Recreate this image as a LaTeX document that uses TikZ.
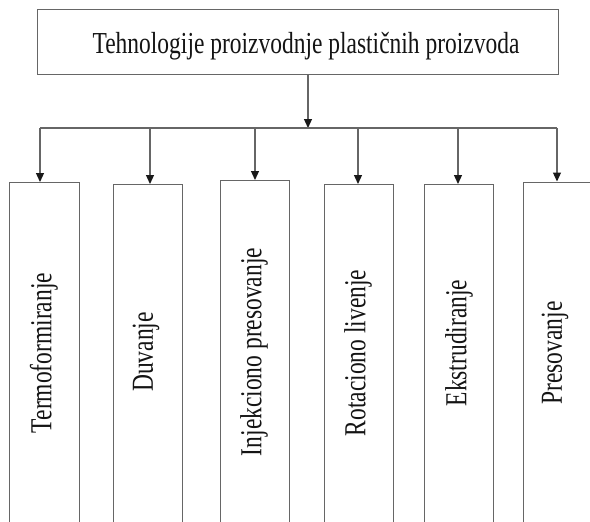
\documentclass[tikz,border=0pt]{standalone}
\usepackage{fontspec}
\setmainfont{Liberation Serif}
\usetikzlibrary{arrows.meta}
\tikzset{
  ln/.style={draw=black!60, line width=1.25pt},
  arr/.style={ln, -{Triangle[width=8pt,length=9pt,color=black!90,fill=black!90]}},
  boxnode/.style={ln, rectangle, inner sep=0pt, minimum height=400pt, anchor=north west},
  label/.style={text=black!92, inner sep=0pt, font=\fontsize{30.5}{36}\selectfont},
  vlabel/.style={label, rotate=90, anchor=center},
}
\newcommand{\cnd}[1]{\scalebox{0.77}[1]{#1}}
\begin{document}
\begin{tikzpicture}[x=1pt,y=-1pt]
\useasboundingbox (0,0) rectangle (590,522);
\clip (0,0) rectangle (590,522);
\fill[white] (0,0) rectangle (590,522);
% top box
\node[ln, rectangle, inner sep=0pt, minimum width=521pt, minimum height=65pt, anchor=north west] (top) at (37,8.5) {};
\node[label, anchor=base] (title) at (306,53) {\cnd{Tehnologije proizvodnje plastičnih proizvoda}};
% boxes
\node[boxnode, minimum width=70pt] (b1) at (9,182) {};
\node[boxnode, minimum width=69pt] (b2) at (113,184) {};
\node[boxnode, minimum width=69pt] (b3) at (220,180) {};
\node[boxnode, minimum width=69pt] (b4) at (324,184) {};
\node[boxnode, minimum width=69pt] (b5) at (424,184) {};
\node[boxnode, minimum width=70pt] (b6) at (523,181.5) {};
% labels
\node[vlabel] (t1) at (44,353) {\cnd{Termoformiranje}};
\node[vlabel] (t2) at (146,352) {\cnd{Duvanje}};
\node[vlabel] (t3) at (254,352) {\cnd{Injekciono presovanje}};
\node[vlabel] (t4) at (358,353) {\cnd{Rotaciono livenje}};
\node[vlabel] (t5) at (459,343) {\cnd{Ekstrudiranje}};
\node[vlabel] (t6) at (555,353) {\cnd{Presovanje}};
% connectors
\coordinate (j) at (308,128);
\coordinate (d1) at (40,128);
\coordinate (d2) at (150,128);
\coordinate (d3) at (255,128);
\coordinate (d4) at (358,128);
\coordinate (d5) at (458,128);
\coordinate (d6) at (557,128);
\draw[arr] (j |- top.south) -- (j);
\draw[ln] (d1) -- (d6);
\draw[arr] (d1) -- (d1 |- b1.north);
\draw[arr] (d2) -- (d2 |- b2.north);
\draw[arr] (d3) -- (d3 |- b3.north);
\draw[arr] (d4) -- (d4 |- b4.north);
\draw[arr] (d5) -- (d5 |- b5.north);
\draw[arr] (d6) -- (d6 |- b6.north);
\end{tikzpicture}
\end{document}
